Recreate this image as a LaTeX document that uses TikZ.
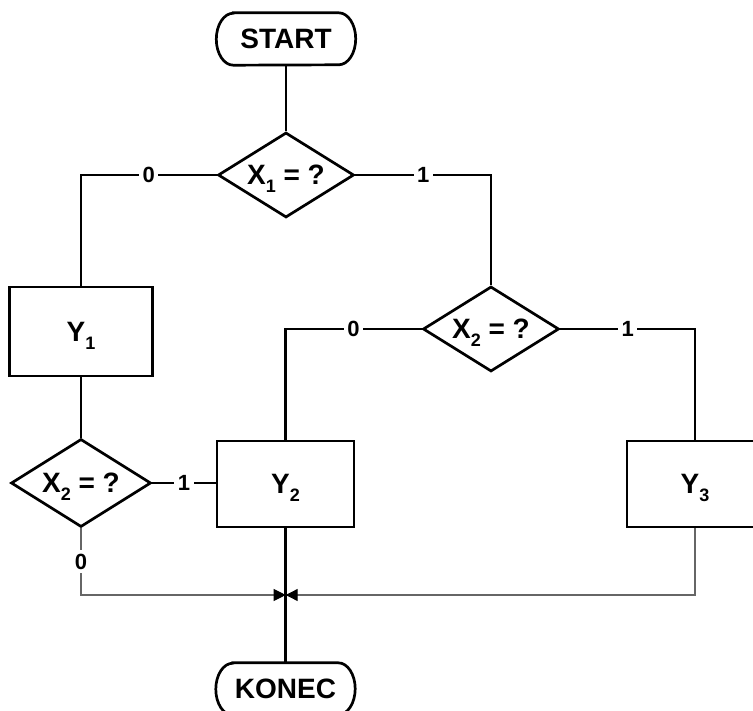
\documentclass[tikz,border=0pt]{standalone}
\usepackage{fontspec}
\setmainfont{Liberation Sans}
\usetikzlibrary{shapes.geometric,arrows.meta}
\newcommand\sbs[1]{\raisebox{-8pt}[0pt][0pt]{\fontsize{18}{18}\selectfont\bfseries #1}}
\begin{document}
\begin{tikzpicture}[x=1pt,y=-1pt,
  font=\fontsize{28}{28}\selectfont\bfseries,
  flow/.style={line width=2.7pt},
  proc/.style={draw,line width=2.7pt,rectangle,minimum height=86pt,inner sep=0pt},
  dec/.style={draw,line width=2.7pt,diamond,aspect=1.6,minimum width=136pt,minimum height=85pt,inner sep=0pt},
  term/.style={minimum width=139pt,minimum height=52pt,inner sep=0pt},
  merge/.style={line width=1.1pt,black!60,-{Triangle[length=12pt,width=12pt,color=black]}},
  lbl/.style={fill=white,text=black,inner sep=3.5pt,font=\fontsize{22}{22}\selectfont\bfseries}
]
\useasboundingbox (0,0) rectangle (753,711);
\clip (0,0) rectangle (753,711);

\node[term] (start) at (286,39) {START};
\node[dec] (d1) at (286,175) {X\sbs{1} = ?};
\node[proc,minimum width=143pt,minimum height=89pt] (y1) at (81,331.5) {Y\sbs{1}};
\node[dec] (d2) at (491,329) {X\sbs{2} = ?};
\node[dec,minimum width=140pt,minimum height=88pt] (d3) at (81,483) {X\sbs{2} = ?};
\node[proc,minimum width=137pt] (y2) at (285.5,484) {Y\sbs{2}};
\node[proc,minimum width=136pt] (y3) at (695,484) {Y\sbs{3}};
\node[term] (konec) at (285.5,689) {KONEC};
\coordinate (m) at (285.7,595);

% terminal outlines
\draw[flow] ([xshift=17pt]start.north west) -- ([xshift=-17pt]start.north east)
  arc[start angle=-90,end angle=90,x radius=17,y radius=26]
  -- ([xshift=17pt]start.south west)
  arc[start angle=90,end angle=270,x radius=17,y radius=26] -- cycle;
\draw[flow] ([xshift=17pt]konec.north west) -- ([xshift=-17pt]konec.north east)
  arc[start angle=-90,end angle=90,x radius=17,y radius=26]
  -- ([xshift=17pt]konec.south west)
  arc[start angle=90,end angle=270,x radius=17,y radius=26] -- cycle;

% merging thin lines
\draw[merge] (d3.south) |- node[lbl,pos=0.25]{0} (m);
\draw[merge] (y3.south) |- (m);

% main flow
\draw[flow] (start) -- (d1);
\draw[flow] (d1.west) -| node[lbl,pos=0.25]{0} (y1.north);
\draw[flow] (d1.east) -| node[lbl,pos=0.25]{1} (d2.north);
\draw[flow] (d2.west) -| node[lbl,pos=0.25]{0} (y2.north);
\draw[flow] (d2.east) -| node[lbl,pos=0.25]{1} (y3.north);
\draw[flow] (y1) -- (d3);
\draw[flow] (d3.east) -- node[lbl]{1} (d3.east -| y2.west);
\draw[flow] (y2) -- (konec);
\end{tikzpicture}
\end{document}
